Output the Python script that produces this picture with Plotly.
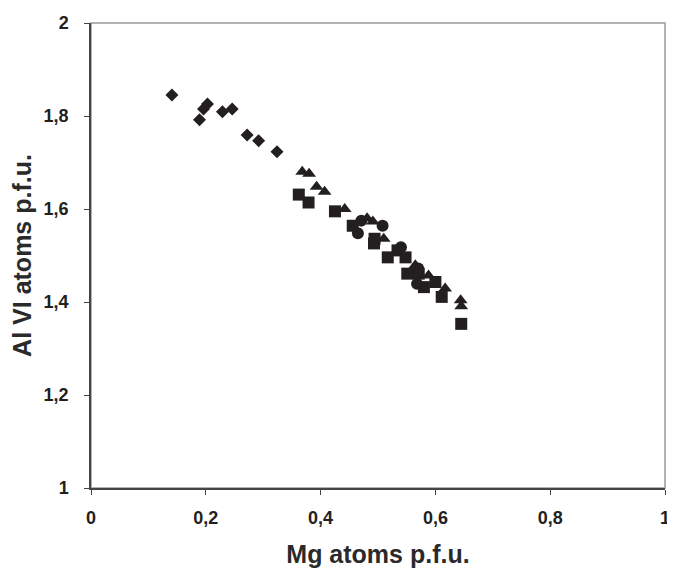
import plotly.graph_objects as go

# Diamonds
dia_x = [0.141, 0.203, 0.196, 0.189, 0.229, 0.246, 0.272, 0.292, 0.324]
dia_y = [1.845, 1.826, 1.815, 1.792, 1.809, 1.815, 1.759, 1.747, 1.723]

# Triangles
tri_x = [0.368, 0.380, 0.393, 0.407, 0.442, 0.481, 0.491, 0.510, 0.565, 0.588, 0.617, 0.644, 0.645]
tri_y = [1.680, 1.676, 1.648, 1.637, 1.600, 1.580, 1.573, 1.536, 1.479, 1.457, 1.429, 1.404, 1.391]

# Squares
sq_x = [0.362, 0.379, 0.425, 0.456, 0.494, 0.493, 0.517, 0.548, 0.551, 0.580, 0.600, 0.611, 0.645, 0.534, 0.571]
sq_y = [1.631, 1.614, 1.595, 1.564, 1.536, 1.526, 1.496, 1.496, 1.461, 1.432, 1.443, 1.411, 1.353, 1.511, 1.461]

# Circles
ci_x = [0.508, 0.465, 0.540, 0.568, 0.471, 0.570]
ci_y = [1.564, 1.548, 1.518, 1.439, 1.575, 1.472]

x_ticks = [0, 0.2, 0.4, 0.6, 0.8, 1]
x_ticktext = ["0", "0,2", "0,4", "0,6", "0,8", "1"]
y_ticks = [1, 1.2, 1.4, 1.6, 1.8, 2]
y_ticktext = ["1", "1,2", "1,4", "1,6", "1,8", "2"]

ink = "#231f20"
fig = go.Figure()
fig.add_trace(go.Scatter(x=dia_x, y=dia_y, mode="markers",
                         marker=dict(symbol="diamond", size=10, color=ink)))
fig.add_trace(go.Scatter(x=tri_x, y=tri_y, mode="markers",
                         marker=dict(symbol="triangle-up", size=12, color=ink)))
fig.add_trace(go.Scatter(x=sq_x, y=sq_y, mode="markers",
                         marker=dict(symbol="square", size=12, color=ink)))
fig.add_trace(go.Scatter(x=ci_x, y=ci_y, mode="markers",
                         marker=dict(symbol="circle", size=12, color=ink)))

fig.add_shape(type="rect", xref="paper", yref="paper", x0=0, y0=0, x1=1, y1=1,
              line=dict(color="#9a9a9a", width=1.5), layer="below")

fam = "Liberation Sans, Arial, sans-serif"
fig.update_layout(
    width=667, height=561,
    margin=dict(l=83, r=5, t=13, b=81),
    paper_bgcolor="white", plot_bgcolor="white",
    showlegend=False,
    font=dict(family=fam, color=ink),
    xaxis=dict(range=[0, 1], tickvals=x_ticks, ticktext=x_ticktext,
               showgrid=False, zeroline=False, showline=True,
               linecolor="#444", linewidth=1.5,
               ticks="outside", ticklen=5, tickcolor="#444",
               ticklabelstandoff=8, ticklabeloverflow="allow",
               tickfont=dict(size=18, family=fam, color=ink, weight="bold"),
               title=dict(text="<b>Mg atoms p.f.u.</b>", standoff=18,
                          font=dict(size=25, family=fam, color="#2a2a2a"))),
    yaxis=dict(range=[1, 2], tickvals=y_ticks, ticktext=y_ticktext,
               showgrid=False, zeroline=False, showline=True,
               linecolor="#444", linewidth=1.5,
               ticks="outside", ticklen=5, tickcolor="#444",
               ticklabelstandoff=12, ticklabeloverflow="allow",
               tickfont=dict(size=18, family=fam, color=ink, weight="bold"),
               title=dict(text="<b>Al VI atoms p.f.u.</b>", standoff=10,
                          font=dict(size=25, family=fam, color="#2a2a2a"))),
)
fig.write_html("out.html")
